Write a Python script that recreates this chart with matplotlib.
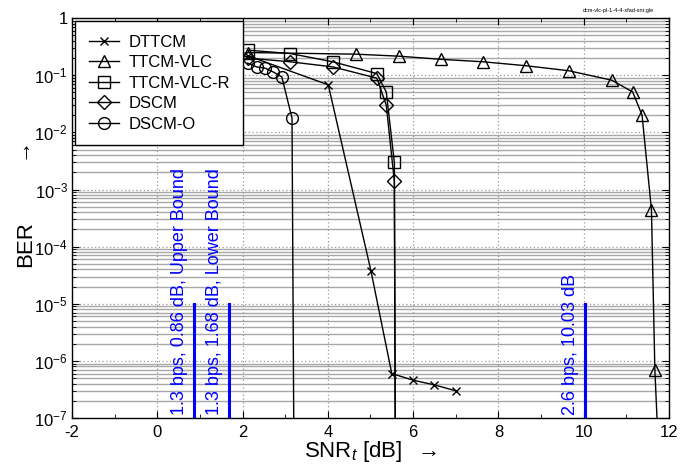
import math
import matplotlib
matplotlib.use("Agg")
import matplotlib.pyplot as plt
from matplotlib.ticker import FixedLocator, FuncFormatter, MultipleLocator

plt.rcParams['font.family'] = ['Liberation Sans', 'DejaVu Sans']
plt.rcParams['mathtext.fontset'] = 'custom'
plt.rcParams['mathtext.rm'] = 'Liberation Sans'
plt.rcParams['mathtext.it'] = 'Liberation Sans:italic'

# data (last point of some curves = where they leave the plot)
dttcm_x = [2.12, 4.01, 5.01, 5.5, 6.0, 6.5, 7.0]
dttcm_y = [0.22, 0.068, 3.8e-5, 6.0e-7, 4.6e-7, 3.8e-7, 3.0e-7]

ttcm_vlc_x = [2.12, 4.66, 5.66, 6.66, 7.65, 8.64, 9.65, 10.66, 11.15, 11.37, 11.59, 11.67, 11.72]
ttcm_vlc_y = [0.25, 0.234, 0.216, 0.19, 0.172, 0.147, 0.12, 0.082, 0.051, 0.02, 4.4e-4, 6.9e-7, 1e-7]

ttcm_vlc_r_x = [2.12, 3.12, 4.12, 5.15, 5.37, 5.56, 5.58]
ttcm_vlc_r_y = [0.275, 0.24, 0.172, 0.107, 0.051, 0.003, 1e-7]

dscm_x = [2.12, 3.12, 4.12, 5.15, 5.37, 5.56, 5.58]
dscm_y = [0.2, 0.172, 0.14, 0.089, 0.030, 1.4e-3, 1e-7]

dscm_o_x = [2.12, 2.33, 2.53, 2.71, 2.92, 3.16, 3.2]
dscm_o_y = [0.163, 0.14, 0.133, 0.115, 0.094, 0.0178, 1e-7]

bound_x = [0.86, 1.68, 10.03]
bound_labels = ["1.3 bps, 0.86 dB, Upper Bound", "1.3 bps, 1.68 dB, Lower Bound", "2.6 bps, 10.03 dB"]

fig = plt.figure(figsize=(6.99, 4.65), dpi=100)
ax = fig.add_axes([0.103, 0.101, 0.854, 0.86])

# grid: dotted majors, solid grey minors on y
for d in range(-7, 1):
    for m in range(2, 10):
        ax.axhline(m * 10.0 ** d, color='#a8a8a8', lw=1.0, zorder=0)
    ax.axhline(10.0 ** d, color='#999999', lw=0.9, ls=(0, (1, 2)), zorder=0)
for xv in range(0, 12, 2):
    ax.axvline(xv, color='#999999', lw=0.9, ls=(0, (1, 2)), zorder=0)

def curve(x, y, marker, ms, label, tail):
    n = len(x) - 1 if tail else len(x)
    ax.plot(x, y, color='black', lw=1.0, marker=marker, ms=ms, mfc='none', mec='black',
            mew=1.0, markevery=list(range(n)), label=label, zorder=3)

curve(dttcm_x, dttcm_y, 'x', 5.5, 'DTTCM', False)
curve(ttcm_vlc_x, ttcm_vlc_y, '^', 9, 'TTCM-VLC', True)
curve(ttcm_vlc_r_x, ttcm_vlc_r_y, 's', 8, 'TTCM-VLC-R', True)
curve(dscm_x, dscm_y, 'D', 7, 'DSCM', True)
curve(dscm_o_x, dscm_o_y, 'o', 8.5, 'DSCM-O', True)

for xb, lb in zip(bound_x, bound_labels):
    ax.plot([xb, xb], [1e-7, 1e-5], color='blue', lw=2.2, zorder=4)
    ax.annotate(lb, xy=(xb, 1e-7), xytext=(-4, 2), textcoords='offset points',
                rotation=90, ha='right', va='bottom', color='blue', fontsize=13)

ax.set_yscale('log')
ax.set_xlim(-2, 12)
ax.set_ylim(1e-7, 1)
ax.xaxis.set_major_locator(MultipleLocator(2))
ax.xaxis.set_minor_locator(MultipleLocator(1))
ax.yaxis.set_major_locator(FixedLocator([10.0 ** d for d in range(-7, 1)]))
ax.yaxis.set_minor_locator(FixedLocator([m * 10.0 ** d for d in range(-7, 0) for m in range(2, 10)]))
ax.yaxis.set_major_formatter(FuncFormatter(
    lambda v, p: '1' if v >= 0.99 else r'$10^{%d}$' % round(math.log10(v))))
ax.xaxis.set_major_formatter(FuncFormatter(lambda v, p: '%d' % v))
ax.tick_params(which='both', direction='in', top=True, right=True, labelsize=12)
ax.tick_params(axis='y', pad=3)
ax.tick_params(axis='x', pad=5)
ax.tick_params(which='major', length=5)
ax.tick_params(which='minor', length=3)
for s in ax.spines.values():
    s.set_linewidth(1.0)

ax.set_xlabel(r'SNR$_t$ [dB]  $\rightarrow$', fontsize=16, labelpad=-1)
fig.text(0.036, 0.475, 'BER', rotation=90, fontsize=16, ha='center', va='center')
fig.text(0.036, 0.665, r'$\rightarrow$', rotation=90, fontsize=16, ha='center', va='center')
fig.text(0.935, 0.973, 'dcm-vlc-pl-1-4-4-xfad-snr.gle', fontsize=4, ha='right', va='bottom')

leg = ax.legend(loc='upper left', fontsize=12, frameon=True, fancybox=False,
                edgecolor='black', framealpha=1, borderaxespad=0.2, handlelength=1.8,
                labelspacing=0.33, borderpad=0.8, handletextpad=0.6)
leg.get_frame().set_linewidth(1.0)

fig.savefig('out.png', dpi=100)
